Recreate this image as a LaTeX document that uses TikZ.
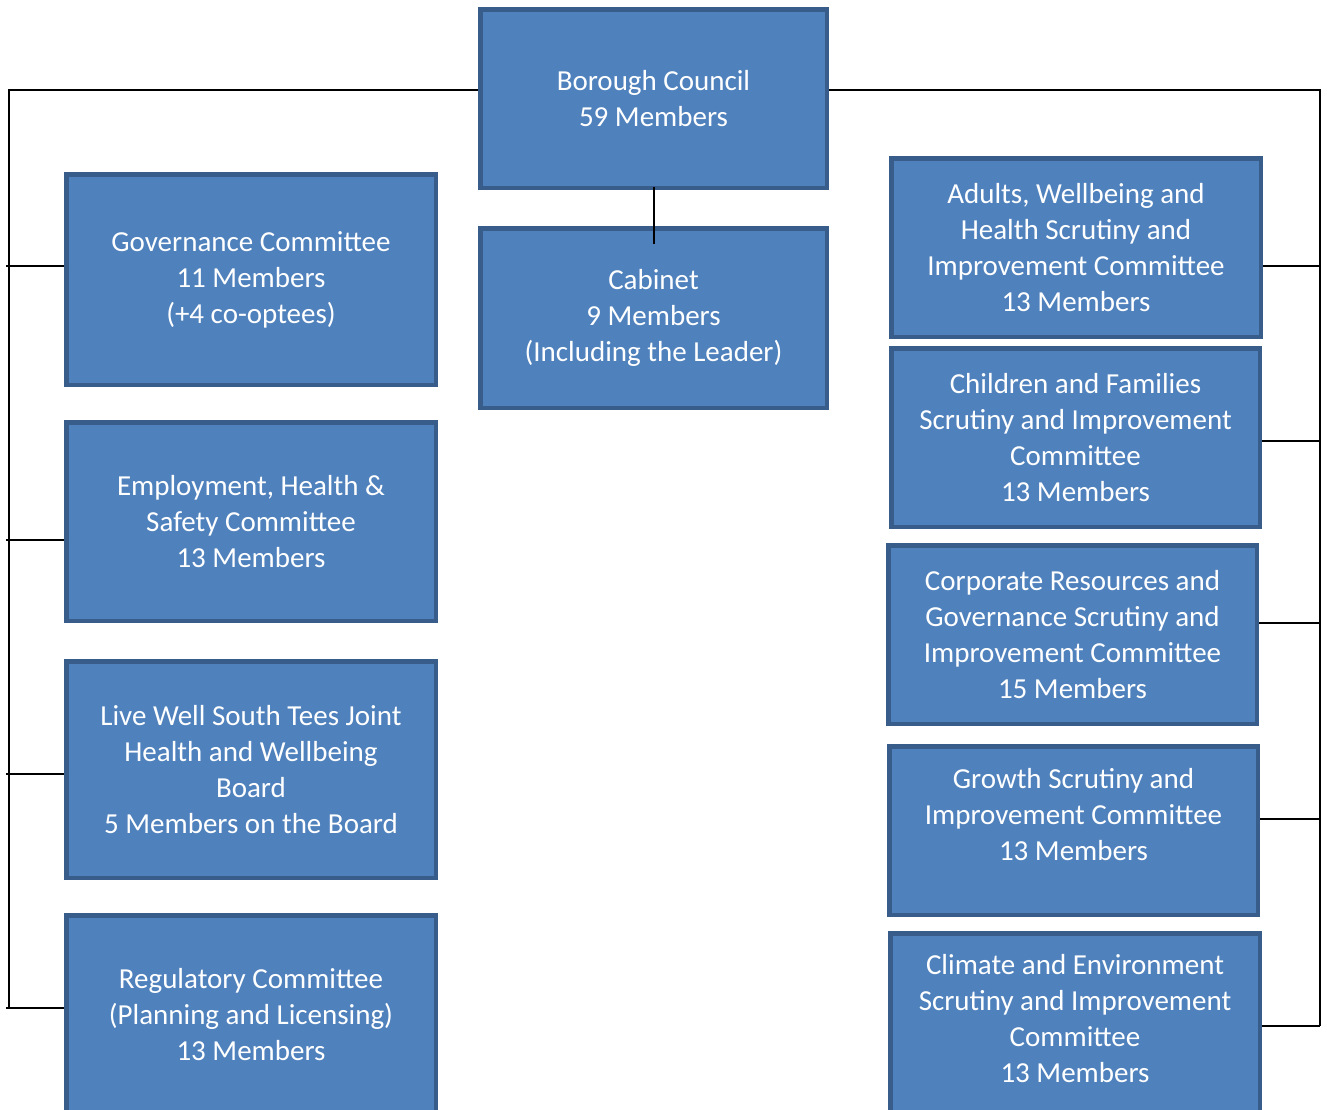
\documentclass[tikz,border=0pt]{standalone}
\usepackage{fontspec}
\setmainfont{Carlito}
\usetikzlibrary{positioning}
\definecolor{boxfill}{HTML}{4F81BD}
\definecolor{boxline}{HTML}{385D8A}

\begin{document}
\begin{tikzpicture}[x=1pt, y=-1pt,
    box/.style={rectangle, draw=boxline, fill=boxfill, line width=4.5pt, text=white, align=center, inner sep=0pt, font=\fontsize{29}{36}\selectfont},
    conn/.style={draw=black, line width=2pt}]
    \useasboundingbox (0,0) rectangle (1327,1109);
    \clip (0,0) rectangle (1327,1109);

    % top
    \node (council) [box, minimum width=346.5pt, minimum height=178.5pt] at (653.5,98.5) {Borough Council\\59 Members};
    \node (cabinet) [box, minimum width=346.5pt, minimum height=179.5pt, below=36pt of council] {Cabinet\\9 Members\\(Including the Leader)};

    % left column
    \node (gov) [box, minimum width=369.5pt, minimum height=210.5pt] at (251,279.5) {Governance Committee\\11 Members\\(+4 co-optees)};
    \node (emp) [box, minimum width=369.5pt, minimum height=198.5pt] at (251,521.5) {Employment, Health \&\\Safety Committee\\13 Members};
    \node (live) [box, minimum width=369.5pt, minimum height=216.5pt] at (251,769.5) {Live Well South Tees Joint\\Health and Wellbeing\\Board\\5 Members on the Board};
    \node (reg) [box, minimum width=369.5pt, minimum height=199.5pt] at (251,1015) {Regulatory Committee\\(Planning and Licensing)\\13 Members};

    % right column
    \node (adults) [box, minimum width=369.5pt, minimum height=178.5pt] at (1076,247.5) {Adults, Wellbeing and\\Health Scrutiny and\\Improvement Committee\\13 Members};
    \node (child) [box, minimum width=368.5pt, minimum height=178.5pt] at (1075.5,437.5) {Children and Families\\Scrutiny and Improvement\\Committee\\13 Members};
    \node (corp) [box, minimum width=368.5pt, minimum height=178.5pt] at (1072.5,634.5) {Corporate Resources and\\Governance Scrutiny and\\Improvement Committee\\15 Members};
    \node (growth) [box, minimum width=368.5pt, minimum height=168.5pt, text depth=33pt] at (1073.5,830.5) {Growth Scrutiny and\\Improvement Committee\\13 Members};
    \node (climate) [box, minimum width=369.5pt, minimum height=181.5pt, text depth=11pt] at (1075,1024) {Climate and Environment\\Scrutiny and Improvement\\Committee\\13 Members};

    % buses
    \coordinate (ltop) at (9,90);
    \coordinate (lbot) at (9,1008);
    \coordinate (lend) at (6,0);
    \coordinate (rtop) at (1320,90);
    \coordinate (rbot) at (1320,1026);

    \draw[conn] (council.west |- ltop) -- (ltop) -- (lbot);
    \draw[conn] (council.east |- rtop) -- (rtop) -- (rbot);
    \draw[conn] ([yshift=3.5pt]council.south) -- ([yshift=-17.5pt]cabinet.north);

    \foreach \n/\yy in {gov/266, emp/540, live/774, reg/1008}
        \draw[conn] (\n.west |- 0,\yy) -- (lend |- 0,\yy);
    \foreach \n/\yy in {adults/266, child/441, corp/623, growth/819, climate/1026}
        \draw[conn] (\n.east |- 0,\yy) -- (rtop |- 0,\yy);
\end{tikzpicture}
\end{document}
